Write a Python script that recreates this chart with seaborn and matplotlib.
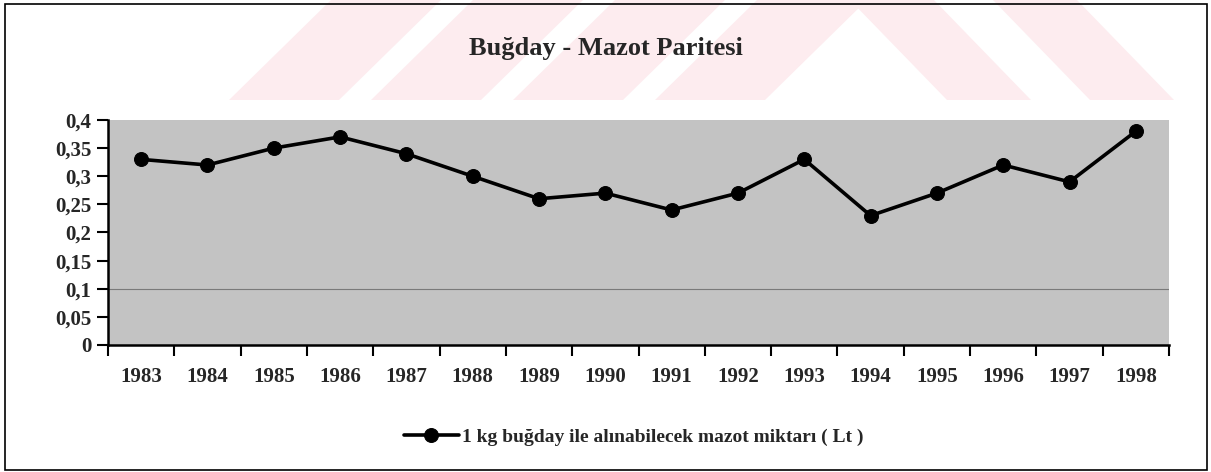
import numpy as np
import pandas as pd
import seaborn as sns
import matplotlib.pyplot as plt
from matplotlib.patches import Polygon, Rectangle

# data
years = ['1983', '1984', '1985', '1986', '1987', '1988', '1989', '1990',
         '1991', '1992', '1993', '1994', '1995', '1996', '1997', '1998']
parite = [0.33, 0.32, 0.35, 0.37, 0.34, 0.30, 0.26, 0.27,
          0.24, 0.27, 0.33, 0.23, 0.27, 0.32, 0.29, 0.38]
y_ticks = [0, 0.05, 0.1, 0.15, 0.2, 0.25, 0.3, 0.35, 0.4]
y_labels = ['0', '0,05', '0,1', '0,15', '0,2', '0,25', '0,3', '0,35', '0,4']
title = 'Buğday - Mazot Paritesi'
series_name = '1 kg buğday ile alınabilecek mazot miktarı ( Lt )'

df = pd.DataFrame({'yil': years, 'deger': parite})

sns.set_theme(style='white')
plt.rcParams['font.family'] = ['Liberation Serif', 'DejaVu Serif']

W, H = 1211, 472
fig = plt.figure(figsize=(W / 100, H / 100), dpi=100)
ax = fig.add_axes([108 / W, 1 - 345 / H, (1169 - 108) / W, (345 - 120) / H])

# faint watermark stripes behind the title (pixel coords of the scan)
pink = '#fdecef'
for x0 in [229, 371, 513, 655]:
    pts = [(x0, 100), (x0 + 110, 100), (x0 + 212, 0), (x0 + 102, 0)]
    fig.patches.append(Polygon([(px / W, 1 - py / H) for px, py in pts],
                               closed=True, transform=fig.transFigure,
                               facecolor=pink, edgecolor='none', zorder=-5))
for x0 in [850, 993]:
    pts = [(x0, 0), (x0 + 84, 0), (x0 + 181, 100), (x0 + 97, 100)]
    fig.patches.append(Polygon([(px / W, 1 - py / H) for px, py in pts],
                               closed=True, transform=fig.transFigure,
                               facecolor=pink, edgecolor='none', zorder=-5))

# outer frame of the figure
fig.patches.append(Rectangle((5 / W, 2 / H), (1207 - 5) / W, (468 - 2) / H,
                             transform=fig.transFigure, fill=False,
                             edgecolor='black', linewidth=1.2, zorder=10))

ax.set_facecolor('#c3c3c3')
ax.axhline(0.1, color='#7a7a7a', linewidth=0.8, zorder=1)

sns.lineplot(data=df, x='yil', y='deger', ax=ax, color='black',
             linewidth=2.6, marker='o', markersize=10,
             markeredgecolor='black', label=series_name, zorder=3)

ax.set_xlim(-0.5, len(years) - 0.5)
ax.set_ylim(0, 0.4)
ax.set_yticks(y_ticks)
ax.set_yticklabels(y_labels, fontsize=15, fontweight='bold')
ax.set_xticks(range(len(years)))
ax.set_xticklabels(years, fontsize=15, fontweight='bold')
ax.set_xticks(np.arange(-0.5, len(years), 1), minor=True)
ax.tick_params(axis='x', which='major', length=0, pad=16)
ax.tick_params(axis='x', which='minor', length=8, width=1.5,
               direction='out', color='black', bottom=True)
ax.tick_params(axis='y', length=8, width=1.5, direction='out',
               color='black', left=True, pad=4)
ax.set_xlabel('')
ax.set_ylabel('')

for side in ['top', 'right']:
    ax.spines[side].set_visible(False)
for side in ['left', 'bottom']:
    ax.spines[side].set_color('black')
    ax.spines[side].set_linewidth(1.8)

fig.text(606 / W, 1 - 48 / H, title, ha='center', va='center',
         fontsize=19, fontweight='bold')

ax.legend(loc='center', bbox_to_anchor=(634 / W, 1 - 437 / H),
          bbox_transform=fig.transFigure, frameon=False,
          prop={'size': 14, 'weight': 'bold'}, handlelength=2.8,
          handletextpad=0.2)

fig.savefig('out.png', dpi=100)
